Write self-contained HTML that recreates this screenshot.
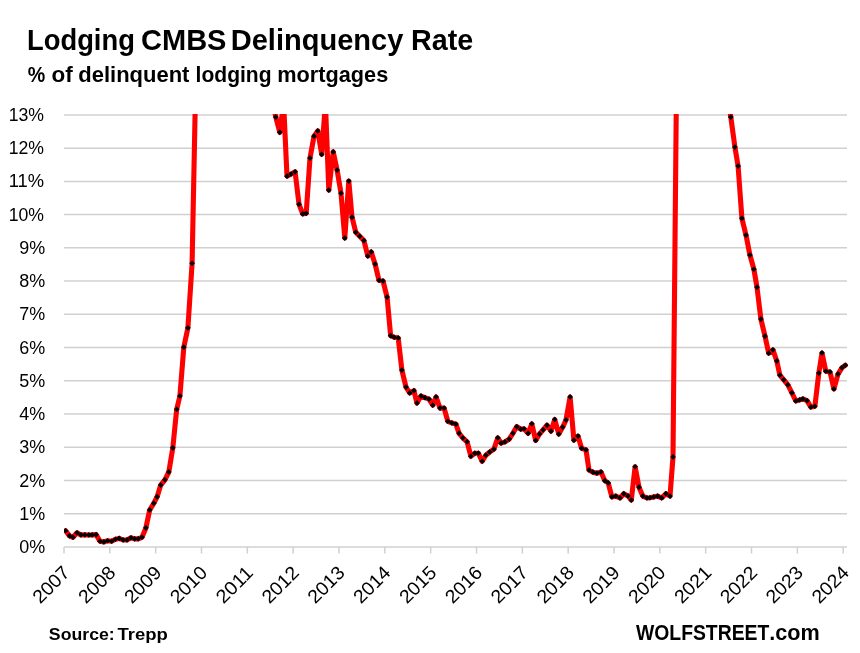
<!DOCTYPE html>
<html lang="en"><head><meta charset="utf-8"><title>Lodging CMBS Delinquency Rate</title>
<style>html,body{margin:0;padding:0;background:#fff}svg{display:block}text{font-family:"Liberation Sans",sans-serif;fill:#000}</style></head>
<body>
<svg width="860" height="653" viewBox="0 0 860 653">
<rect width="860" height="653" fill="#fff"/>
<defs><clipPath id="plot"><rect x="64" y="114" width="784" height="436"/></clipPath></defs>
<g stroke="#d0d0d0" stroke-width="1.5" fill="none">
<line x1="64" y1="547.00" x2="847" y2="547.00"/>
<line x1="64" y1="513.76" x2="847" y2="513.76"/>
<line x1="64" y1="480.52" x2="847" y2="480.52"/>
<line x1="64" y1="447.28" x2="847" y2="447.28"/>
<line x1="64" y1="414.05" x2="847" y2="414.05"/>
<line x1="64" y1="380.81" x2="847" y2="380.81"/>
<line x1="64" y1="347.57" x2="847" y2="347.57"/>
<line x1="64" y1="314.33" x2="847" y2="314.33"/>
<line x1="64" y1="281.09" x2="847" y2="281.09"/>
<line x1="64" y1="247.85" x2="847" y2="247.85"/>
<line x1="64" y1="214.62" x2="847" y2="214.62"/>
<line x1="64" y1="181.38" x2="847" y2="181.38"/>
<line x1="64" y1="148.14" x2="847" y2="148.14"/>
<line x1="64" y1="114.90" x2="847" y2="114.90"/>
<line x1="64.00" y1="547.00" x2="64.00" y2="553.5"/>
<line x1="109.83" y1="547.00" x2="109.83" y2="553.5"/>
<line x1="155.67" y1="547.00" x2="155.67" y2="553.5"/>
<line x1="201.50" y1="547.00" x2="201.50" y2="553.5"/>
<line x1="247.34" y1="547.00" x2="247.34" y2="553.5"/>
<line x1="293.17" y1="547.00" x2="293.17" y2="553.5"/>
<line x1="339.00" y1="547.00" x2="339.00" y2="553.5"/>
<line x1="384.84" y1="547.00" x2="384.84" y2="553.5"/>
<line x1="430.67" y1="547.00" x2="430.67" y2="553.5"/>
<line x1="476.51" y1="547.00" x2="476.51" y2="553.5"/>
<line x1="522.34" y1="547.00" x2="522.34" y2="553.5"/>
<line x1="568.18" y1="547.00" x2="568.18" y2="553.5"/>
<line x1="614.01" y1="547.00" x2="614.01" y2="553.5"/>
<line x1="659.84" y1="547.00" x2="659.84" y2="553.5"/>
<line x1="705.68" y1="547.00" x2="705.68" y2="553.5"/>
<line x1="751.51" y1="547.00" x2="751.51" y2="553.5"/>
<line x1="797.35" y1="547.00" x2="797.35" y2="553.5"/>
<line x1="843.18" y1="547.00" x2="843.18" y2="553.5"/>
</g>
<g fill="#111">
<text x="19.19" y="553.10" font-size="18.9" textLength="25.95" lengthAdjust="spacingAndGlyphs">0%</text>
<text x="19.19" y="519.86" font-size="18.9" textLength="25.95" lengthAdjust="spacingAndGlyphs">1%</text>
<text x="19.19" y="486.62" font-size="18.9" textLength="25.95" lengthAdjust="spacingAndGlyphs">2%</text>
<text x="19.19" y="453.38" font-size="18.9" textLength="25.95" lengthAdjust="spacingAndGlyphs">3%</text>
<text x="19.19" y="420.15" font-size="18.9" textLength="25.95" lengthAdjust="spacingAndGlyphs">4%</text>
<text x="19.19" y="386.91" font-size="18.9" textLength="25.95" lengthAdjust="spacingAndGlyphs">5%</text>
<text x="19.19" y="353.67" font-size="18.9" textLength="25.95" lengthAdjust="spacingAndGlyphs">6%</text>
<text x="19.19" y="320.43" font-size="18.9" textLength="25.95" lengthAdjust="spacingAndGlyphs">7%</text>
<text x="19.19" y="287.19" font-size="18.9" textLength="25.95" lengthAdjust="spacingAndGlyphs">8%</text>
<text x="19.19" y="253.95" font-size="18.9" textLength="25.95" lengthAdjust="spacingAndGlyphs">9%</text>
<text x="8.70" y="220.72" font-size="18.9" textLength="35.33" lengthAdjust="spacingAndGlyphs">10%</text>
<text x="8.70" y="187.48" font-size="18.9" textLength="35.33" lengthAdjust="spacingAndGlyphs">11%</text>
<text x="8.70" y="154.24" font-size="18.9" textLength="35.33" lengthAdjust="spacingAndGlyphs">12%</text>
<text x="8.70" y="121.00" font-size="18.9" textLength="35.33" lengthAdjust="spacingAndGlyphs">13%</text>
</g>
<g font-size="18.9" text-anchor="end" fill="#111">
<text transform="translate(70.90,573.90) rotate(-45)" x="0" y="0" textLength="43.40" lengthAdjust="spacingAndGlyphs">2007</text>
<text transform="translate(116.73,573.90) rotate(-45)" x="0" y="0" textLength="43.40" lengthAdjust="spacingAndGlyphs">2008</text>
<text transform="translate(162.57,573.90) rotate(-45)" x="0" y="0" textLength="43.40" lengthAdjust="spacingAndGlyphs">2009</text>
<text transform="translate(208.40,573.90) rotate(-45)" x="0" y="0" textLength="43.40" lengthAdjust="spacingAndGlyphs">2010</text>
<text transform="translate(254.24,573.90) rotate(-45)" x="0" y="0" textLength="43.40" lengthAdjust="spacingAndGlyphs">2011</text>
<text transform="translate(300.07,573.90) rotate(-45)" x="0" y="0" textLength="43.40" lengthAdjust="spacingAndGlyphs">2012</text>
<text transform="translate(345.90,573.90) rotate(-45)" x="0" y="0" textLength="43.40" lengthAdjust="spacingAndGlyphs">2013</text>
<text transform="translate(391.74,573.90) rotate(-45)" x="0" y="0" textLength="43.40" lengthAdjust="spacingAndGlyphs">2014</text>
<text transform="translate(437.57,573.90) rotate(-45)" x="0" y="0" textLength="43.40" lengthAdjust="spacingAndGlyphs">2015</text>
<text transform="translate(483.41,573.90) rotate(-45)" x="0" y="0" textLength="43.40" lengthAdjust="spacingAndGlyphs">2016</text>
<text transform="translate(529.24,573.90) rotate(-45)" x="0" y="0" textLength="43.40" lengthAdjust="spacingAndGlyphs">2017</text>
<text transform="translate(575.08,573.90) rotate(-45)" x="0" y="0" textLength="43.40" lengthAdjust="spacingAndGlyphs">2018</text>
<text transform="translate(620.91,573.90) rotate(-45)" x="0" y="0" textLength="43.40" lengthAdjust="spacingAndGlyphs">2019</text>
<text transform="translate(666.74,573.90) rotate(-45)" x="0" y="0" textLength="43.40" lengthAdjust="spacingAndGlyphs">2020</text>
<text transform="translate(712.58,573.90) rotate(-45)" x="0" y="0" textLength="43.40" lengthAdjust="spacingAndGlyphs">2021</text>
<text transform="translate(758.41,573.90) rotate(-45)" x="0" y="0" textLength="43.40" lengthAdjust="spacingAndGlyphs">2022</text>
<text transform="translate(804.25,573.90) rotate(-45)" x="0" y="0" textLength="43.40" lengthAdjust="spacingAndGlyphs">2023</text>
<text transform="translate(850.08,573.90) rotate(-45)" x="0" y="0" textLength="43.40" lengthAdjust="spacingAndGlyphs">2024</text>
</g>
<g clip-path="url(#plot)">
<path d="M65.6,530.7 L69.5,535.9 L73.0,537.3 L77.0,532.8 L80.9,534.9 L84.8,534.9 L88.9,535.0 L92.1,534.9 L96.1,534.6 L100.0,541.2 L103.8,542.0 L107.7,540.7 L111.6,541.2 L115.4,539.3 L119.2,538.4 L123.1,540.0 L127.0,540.0 L130.9,537.8 L134.6,538.9 L138.1,538.9 L142.0,537.3 L145.9,527.9 L149.7,510.0 L153.8,503.2 L157.1,496.9 L160.7,485.1 L164.9,479.8 L168.8,472.0 L172.8,447.9 L176.7,409.3 L179.9,396.0 L183.8,347.2 L187.9,327.9 L192.1,263.3 L195.6,88.0 L199.6,40.0 L203.4,40.0 L207.2,40.0 L211.1,40.0 L214.9,40.0 L218.7,40.0 L222.5,40.0 L226.3,40.0 L230.1,40.0 L234.0,40.0 L237.8,40.0 L241.6,40.0 L245.4,40.0 L249.2,40.0 L253.1,40.0 L256.9,40.0 L260.7,40.0 L264.5,40.0 L268.3,40.0 L272.0,98.0 L275.8,117.0 L279.8,132.3 L283.6,103.0 L287.0,176.2 L291.0,174.1 L295.1,171.8 L299.0,204.2 L302.7,213.9 L306.2,213.3 L310.0,158.0 L314.0,136.2 L317.8,130.9 L321.7,154.3 L325.4,103.0 L328.8,190.1 L333.2,151.9 L337.1,170.0 L341.0,193.2 L344.8,238.0 L348.8,181.0 L352.0,217.2 L355.8,232.3 L359.7,236.2 L363.9,240.5 L367.8,256.0 L371.2,251.9 L375.1,264.1 L379.0,280.3 L383.0,281.0 L387.1,297.1 L390.6,335.6 L394.1,337.3 L398.2,338.0 L401.9,370.1 L406.0,387.1 L409.7,393.0 L413.9,390.6 L417.0,403.1 L421.0,396.0 L425.0,397.7 L429.0,399.1 L432.8,405.2 L436.1,397.0 L440.0,408.1 L444.1,408.1 L447.8,421.3 L451.9,423.0 L455.9,424.1 L459.1,433.3 L462.9,438.0 L467.1,441.8 L470.9,456.3 L474.8,453.2 L478.3,453.2 L482.2,461.3 L485.9,455.2 L489.8,452.0 L493.9,449.2 L497.8,437.9 L501.1,443.2 L505.0,441.9 L509.2,439.1 L512.9,433.3 L516.8,426.6 L520.7,429.2 L524.0,428.8 L528.1,433.4 L531.8,423.8 L535.7,440.5 L539.5,434.0 L543.1,429.9 L547.0,425.2 L551.0,431.2 L554.7,419.5 L558.8,434.1 L562.7,427.1 L566.0,420.0 L570.1,397.0 L573.9,440.3 L578.0,436.1 L581.6,448.3 L586.0,449.9 L589.0,470.0 L593.0,472.2 L596.9,473.2 L601.0,472.0 L604.8,480.7 L608.2,483.0 L611.9,496.9 L615.8,496.1 L620.0,498.0 L623.8,493.7 L628.0,496.0 L631.3,500.1 L635.1,466.8 L639.0,487.2 L642.8,496.1 L647.0,498.0 L649.9,497.8 L653.8,496.9 L657.7,496.1 L661.7,498.0 L665.9,493.7 L670.0,496.1 L673.0,457.0 L676.8,50.0 L680.9,40.0 L684.7,40.0 L688.5,40.0 L692.3,40.0 L696.1,40.0 L699.9,40.0 L703.8,40.0 L707.6,40.0 L711.4,40.0 L715.2,40.0 L719.0,40.0 L722.9,40.0 L727.0,92.0 L730.8,117.0 L734.9,147.0 L738.1,166.1 L741.9,218.3 L746.0,235.1 L749.9,255.0 L753.9,269.3 L757.0,287.2 L760.9,319.1 L765.0,336.2 L768.7,353.2 L772.9,349.9 L776.8,361.0 L779.9,375.2 L783.8,379.9 L787.9,384.9 L791.9,392.9 L795.8,401.0 L799.7,399.9 L802.9,398.9 L807.0,400.6 L810.9,407.1 L814.9,406.3 L818.8,373.1 L822.0,353.0 L825.8,371.3 L830.0,372.0 L833.9,389.0 L838.0,374.1 L841.9,367.8 L845.3,365.3" fill="none" stroke="#ff0000" stroke-width="5.1" stroke-linejoin="round" stroke-linecap="round"/>
<path d="M65.6,527.9l2.85,2.85l-2.85,2.85l-2.85,-2.85zM69.5,533.0l2.85,2.85l-2.85,2.85l-2.85,-2.85zM73.0,534.4l2.85,2.85l-2.85,2.85l-2.85,-2.85zM77.0,529.9l2.85,2.85l-2.85,2.85l-2.85,-2.85zM80.9,532.0l2.85,2.85l-2.85,2.85l-2.85,-2.85zM84.8,532.0l2.85,2.85l-2.85,2.85l-2.85,-2.85zM88.9,532.1l2.85,2.85l-2.85,2.85l-2.85,-2.85zM92.1,532.0l2.85,2.85l-2.85,2.85l-2.85,-2.85zM96.1,531.8l2.85,2.85l-2.85,2.85l-2.85,-2.85zM100.0,538.4l2.85,2.85l-2.85,2.85l-2.85,-2.85zM103.8,539.1l2.85,2.85l-2.85,2.85l-2.85,-2.85zM107.7,537.9l2.85,2.85l-2.85,2.85l-2.85,-2.85zM111.6,538.4l2.85,2.85l-2.85,2.85l-2.85,-2.85zM115.4,536.4l2.85,2.85l-2.85,2.85l-2.85,-2.85zM119.2,535.5l2.85,2.85l-2.85,2.85l-2.85,-2.85zM123.1,537.1l2.85,2.85l-2.85,2.85l-2.85,-2.85zM127.0,537.1l2.85,2.85l-2.85,2.85l-2.85,-2.85zM130.9,534.9l2.85,2.85l-2.85,2.85l-2.85,-2.85zM134.6,536.0l2.85,2.85l-2.85,2.85l-2.85,-2.85zM138.1,536.0l2.85,2.85l-2.85,2.85l-2.85,-2.85zM142.0,534.4l2.85,2.85l-2.85,2.85l-2.85,-2.85zM145.9,525.0l2.85,2.85l-2.85,2.85l-2.85,-2.85zM149.7,507.1l2.85,2.85l-2.85,2.85l-2.85,-2.85zM153.8,500.3l2.85,2.85l-2.85,2.85l-2.85,-2.85zM157.1,494.0l2.85,2.85l-2.85,2.85l-2.85,-2.85zM160.7,482.2l2.85,2.85l-2.85,2.85l-2.85,-2.85zM164.9,476.9l2.85,2.85l-2.85,2.85l-2.85,-2.85zM168.8,469.1l2.85,2.85l-2.85,2.85l-2.85,-2.85zM172.8,445.0l2.85,2.85l-2.85,2.85l-2.85,-2.85zM176.7,406.4l2.85,2.85l-2.85,2.85l-2.85,-2.85zM179.9,393.1l2.85,2.85l-2.85,2.85l-2.85,-2.85zM183.8,344.3l2.85,2.85l-2.85,2.85l-2.85,-2.85zM187.9,325.0l2.85,2.85l-2.85,2.85l-2.85,-2.85zM192.1,260.4l2.85,2.85l-2.85,2.85l-2.85,-2.85zM275.8,114.2l2.85,2.85l-2.85,2.85l-2.85,-2.85zM279.8,129.5l2.85,2.85l-2.85,2.85l-2.85,-2.85zM283.6,100.2l2.85,2.85l-2.85,2.85l-2.85,-2.85zM287.0,173.3l2.85,2.85l-2.85,2.85l-2.85,-2.85zM291.0,171.2l2.85,2.85l-2.85,2.85l-2.85,-2.85zM295.1,169.0l2.85,2.85l-2.85,2.85l-2.85,-2.85zM299.0,201.3l2.85,2.85l-2.85,2.85l-2.85,-2.85zM302.7,211.1l2.85,2.85l-2.85,2.85l-2.85,-2.85zM306.2,210.5l2.85,2.85l-2.85,2.85l-2.85,-2.85zM310.0,155.2l2.85,2.85l-2.85,2.85l-2.85,-2.85zM314.0,133.3l2.85,2.85l-2.85,2.85l-2.85,-2.85zM317.8,128.1l2.85,2.85l-2.85,2.85l-2.85,-2.85zM321.7,151.5l2.85,2.85l-2.85,2.85l-2.85,-2.85zM325.4,100.2l2.85,2.85l-2.85,2.85l-2.85,-2.85zM328.8,187.2l2.85,2.85l-2.85,2.85l-2.85,-2.85zM333.2,149.1l2.85,2.85l-2.85,2.85l-2.85,-2.85zM337.1,167.2l2.85,2.85l-2.85,2.85l-2.85,-2.85zM341.0,190.3l2.85,2.85l-2.85,2.85l-2.85,-2.85zM344.8,235.2l2.85,2.85l-2.85,2.85l-2.85,-2.85zM348.8,178.2l2.85,2.85l-2.85,2.85l-2.85,-2.85zM352.0,214.3l2.85,2.85l-2.85,2.85l-2.85,-2.85zM355.8,229.5l2.85,2.85l-2.85,2.85l-2.85,-2.85zM359.7,233.3l2.85,2.85l-2.85,2.85l-2.85,-2.85zM363.9,237.7l2.85,2.85l-2.85,2.85l-2.85,-2.85zM367.8,253.2l2.85,2.85l-2.85,2.85l-2.85,-2.85zM371.2,249.1l2.85,2.85l-2.85,2.85l-2.85,-2.85zM375.1,261.2l2.85,2.85l-2.85,2.85l-2.85,-2.85zM379.0,277.4l2.85,2.85l-2.85,2.85l-2.85,-2.85zM383.0,278.1l2.85,2.85l-2.85,2.85l-2.85,-2.85zM387.1,294.2l2.85,2.85l-2.85,2.85l-2.85,-2.85zM390.6,332.8l2.85,2.85l-2.85,2.85l-2.85,-2.85zM394.1,334.4l2.85,2.85l-2.85,2.85l-2.85,-2.85zM398.2,335.1l2.85,2.85l-2.85,2.85l-2.85,-2.85zM401.9,367.2l2.85,2.85l-2.85,2.85l-2.85,-2.85zM406.0,384.2l2.85,2.85l-2.85,2.85l-2.85,-2.85zM409.7,390.1l2.85,2.85l-2.85,2.85l-2.85,-2.85zM413.9,387.8l2.85,2.85l-2.85,2.85l-2.85,-2.85zM417.0,400.2l2.85,2.85l-2.85,2.85l-2.85,-2.85zM421.0,393.1l2.85,2.85l-2.85,2.85l-2.85,-2.85zM425.0,394.8l2.85,2.85l-2.85,2.85l-2.85,-2.85zM429.0,396.2l2.85,2.85l-2.85,2.85l-2.85,-2.85zM432.8,402.3l2.85,2.85l-2.85,2.85l-2.85,-2.85zM436.1,394.1l2.85,2.85l-2.85,2.85l-2.85,-2.85zM440.0,405.2l2.85,2.85l-2.85,2.85l-2.85,-2.85zM444.1,405.2l2.85,2.85l-2.85,2.85l-2.85,-2.85zM447.8,418.4l2.85,2.85l-2.85,2.85l-2.85,-2.85zM451.9,420.1l2.85,2.85l-2.85,2.85l-2.85,-2.85zM455.9,421.2l2.85,2.85l-2.85,2.85l-2.85,-2.85zM459.1,430.4l2.85,2.85l-2.85,2.85l-2.85,-2.85zM462.9,435.1l2.85,2.85l-2.85,2.85l-2.85,-2.85zM467.1,438.9l2.85,2.85l-2.85,2.85l-2.85,-2.85zM470.9,453.4l2.85,2.85l-2.85,2.85l-2.85,-2.85zM474.8,450.3l2.85,2.85l-2.85,2.85l-2.85,-2.85zM478.3,450.3l2.85,2.85l-2.85,2.85l-2.85,-2.85zM482.2,458.4l2.85,2.85l-2.85,2.85l-2.85,-2.85zM485.9,452.3l2.85,2.85l-2.85,2.85l-2.85,-2.85zM489.8,449.1l2.85,2.85l-2.85,2.85l-2.85,-2.85zM493.9,446.3l2.85,2.85l-2.85,2.85l-2.85,-2.85zM497.8,435.0l2.85,2.85l-2.85,2.85l-2.85,-2.85zM501.1,440.3l2.85,2.85l-2.85,2.85l-2.85,-2.85zM505.0,439.0l2.85,2.85l-2.85,2.85l-2.85,-2.85zM509.2,436.2l2.85,2.85l-2.85,2.85l-2.85,-2.85zM512.9,430.4l2.85,2.85l-2.85,2.85l-2.85,-2.85zM516.8,423.8l2.85,2.85l-2.85,2.85l-2.85,-2.85zM520.7,426.3l2.85,2.85l-2.85,2.85l-2.85,-2.85zM524.0,425.9l2.85,2.85l-2.85,2.85l-2.85,-2.85zM528.1,430.5l2.85,2.85l-2.85,2.85l-2.85,-2.85zM531.8,420.9l2.85,2.85l-2.85,2.85l-2.85,-2.85zM535.7,437.6l2.85,2.85l-2.85,2.85l-2.85,-2.85zM539.5,431.1l2.85,2.85l-2.85,2.85l-2.85,-2.85zM543.1,427.0l2.85,2.85l-2.85,2.85l-2.85,-2.85zM547.0,422.3l2.85,2.85l-2.85,2.85l-2.85,-2.85zM551.0,428.3l2.85,2.85l-2.85,2.85l-2.85,-2.85zM554.7,416.6l2.85,2.85l-2.85,2.85l-2.85,-2.85zM558.8,431.2l2.85,2.85l-2.85,2.85l-2.85,-2.85zM562.7,424.2l2.85,2.85l-2.85,2.85l-2.85,-2.85zM566.0,417.1l2.85,2.85l-2.85,2.85l-2.85,-2.85zM570.1,394.1l2.85,2.85l-2.85,2.85l-2.85,-2.85zM573.9,437.4l2.85,2.85l-2.85,2.85l-2.85,-2.85zM578.0,433.2l2.85,2.85l-2.85,2.85l-2.85,-2.85zM581.6,445.4l2.85,2.85l-2.85,2.85l-2.85,-2.85zM586.0,447.0l2.85,2.85l-2.85,2.85l-2.85,-2.85zM589.0,467.1l2.85,2.85l-2.85,2.85l-2.85,-2.85zM593.0,469.3l2.85,2.85l-2.85,2.85l-2.85,-2.85zM596.9,470.3l2.85,2.85l-2.85,2.85l-2.85,-2.85zM601.0,469.1l2.85,2.85l-2.85,2.85l-2.85,-2.85zM604.8,477.8l2.85,2.85l-2.85,2.85l-2.85,-2.85zM608.2,480.1l2.85,2.85l-2.85,2.85l-2.85,-2.85zM611.9,494.0l2.85,2.85l-2.85,2.85l-2.85,-2.85zM615.8,493.2l2.85,2.85l-2.85,2.85l-2.85,-2.85zM620.0,495.1l2.85,2.85l-2.85,2.85l-2.85,-2.85zM623.8,490.8l2.85,2.85l-2.85,2.85l-2.85,-2.85zM628.0,493.1l2.85,2.85l-2.85,2.85l-2.85,-2.85zM631.3,497.2l2.85,2.85l-2.85,2.85l-2.85,-2.85zM635.1,463.9l2.85,2.85l-2.85,2.85l-2.85,-2.85zM639.0,484.3l2.85,2.85l-2.85,2.85l-2.85,-2.85zM642.8,493.2l2.85,2.85l-2.85,2.85l-2.85,-2.85zM647.0,495.1l2.85,2.85l-2.85,2.85l-2.85,-2.85zM649.9,494.9l2.85,2.85l-2.85,2.85l-2.85,-2.85zM653.8,494.0l2.85,2.85l-2.85,2.85l-2.85,-2.85zM657.7,493.2l2.85,2.85l-2.85,2.85l-2.85,-2.85zM661.7,495.1l2.85,2.85l-2.85,2.85l-2.85,-2.85zM665.9,490.8l2.85,2.85l-2.85,2.85l-2.85,-2.85zM670.0,493.2l2.85,2.85l-2.85,2.85l-2.85,-2.85zM673.0,454.1l2.85,2.85l-2.85,2.85l-2.85,-2.85zM730.8,114.2l2.85,2.85l-2.85,2.85l-2.85,-2.85zM734.9,144.2l2.85,2.85l-2.85,2.85l-2.85,-2.85zM738.1,163.2l2.85,2.85l-2.85,2.85l-2.85,-2.85zM741.9,215.5l2.85,2.85l-2.85,2.85l-2.85,-2.85zM746.0,232.2l2.85,2.85l-2.85,2.85l-2.85,-2.85zM749.9,252.2l2.85,2.85l-2.85,2.85l-2.85,-2.85zM753.9,266.4l2.85,2.85l-2.85,2.85l-2.85,-2.85zM757.0,284.3l2.85,2.85l-2.85,2.85l-2.85,-2.85zM760.9,316.2l2.85,2.85l-2.85,2.85l-2.85,-2.85zM765.0,333.3l2.85,2.85l-2.85,2.85l-2.85,-2.85zM768.7,350.3l2.85,2.85l-2.85,2.85l-2.85,-2.85zM772.9,347.0l2.85,2.85l-2.85,2.85l-2.85,-2.85zM776.8,358.1l2.85,2.85l-2.85,2.85l-2.85,-2.85zM779.9,372.3l2.85,2.85l-2.85,2.85l-2.85,-2.85zM783.8,377.0l2.85,2.85l-2.85,2.85l-2.85,-2.85zM787.9,382.1l2.85,2.85l-2.85,2.85l-2.85,-2.85zM791.9,390.0l2.85,2.85l-2.85,2.85l-2.85,-2.85zM795.8,398.1l2.85,2.85l-2.85,2.85l-2.85,-2.85zM799.7,397.0l2.85,2.85l-2.85,2.85l-2.85,-2.85zM802.9,396.0l2.85,2.85l-2.85,2.85l-2.85,-2.85zM807.0,397.8l2.85,2.85l-2.85,2.85l-2.85,-2.85zM810.9,404.2l2.85,2.85l-2.85,2.85l-2.85,-2.85zM814.9,403.4l2.85,2.85l-2.85,2.85l-2.85,-2.85zM818.8,370.2l2.85,2.85l-2.85,2.85l-2.85,-2.85zM822.0,350.1l2.85,2.85l-2.85,2.85l-2.85,-2.85zM825.8,368.4l2.85,2.85l-2.85,2.85l-2.85,-2.85zM830.0,369.1l2.85,2.85l-2.85,2.85l-2.85,-2.85zM833.9,386.1l2.85,2.85l-2.85,2.85l-2.85,-2.85zM838.0,371.2l2.85,2.85l-2.85,2.85l-2.85,-2.85zM841.9,364.9l2.85,2.85l-2.85,2.85l-2.85,-2.85zM845.3,362.4l2.85,2.85l-2.85,2.85l-2.85,-2.85z" fill="#000"/>
</g>
<text y="49.5" font-size="28.7" font-weight="bold"><tspan x="27.04" textLength="107.84" lengthAdjust="spacingAndGlyphs">Lodging</tspan> <tspan x="141.04" textLength="85.40" lengthAdjust="spacingAndGlyphs">CMBS</tspan> <tspan x="230.78" textLength="172.60" lengthAdjust="spacingAndGlyphs">Delinquency</tspan> <tspan x="411.00" textLength="62.24" lengthAdjust="spacingAndGlyphs">Rate</tspan></text>
<text y="81.8" font-size="22.2" font-weight="bold"><tspan x="27.76" textLength="17.47" lengthAdjust="spacingAndGlyphs">%</tspan> <tspan x="51.44" textLength="21.21" lengthAdjust="spacingAndGlyphs">of</tspan> <tspan x="78.31" textLength="111.16" lengthAdjust="spacingAndGlyphs">delinquent</tspan> <tspan x="195.58" textLength="76.01" lengthAdjust="spacingAndGlyphs">lodging</tspan> <tspan x="277.33" textLength="110.88" lengthAdjust="spacingAndGlyphs">mortgages</tspan></text>
<text y="639.5" font-size="17.2" font-weight="bold"><tspan x="48.89" textLength="65.81" lengthAdjust="spacingAndGlyphs">Source:</tspan> <tspan x="117.53" textLength="50.36" lengthAdjust="spacingAndGlyphs">Trepp</tspan></text>
<text y="639.6" font-size="21.6" font-weight="bold"><tspan x="636.00" textLength="133.32" lengthAdjust="spacingAndGlyphs">WOLFSTREET</tspan><tspan x="769.30" textLength="50.51" lengthAdjust="spacingAndGlyphs">.com</tspan></text>
</svg>
</body></html>
